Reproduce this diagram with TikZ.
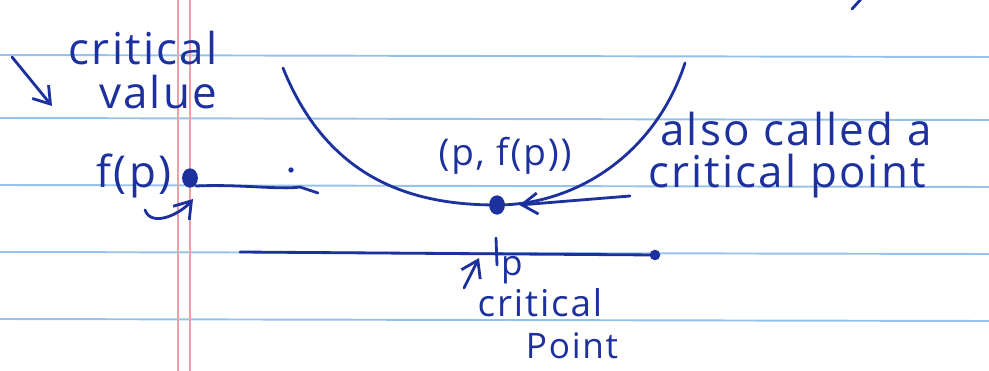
\documentclass[tikz,border=0pt]{standalone}
\usepackage{fontspec}
\setmainfont{Open Sans}[LetterSpace=5]
\usetikzlibrary{arrows.meta, positioning, shapes.geometric}
\definecolor{ink}{RGB}{28,48,158}
\definecolor{ruleblue}{RGB}{150,195,235}
\definecolor{marginred}{RGB}{235,160,165}
\tikzset{
    rule/.style={ruleblue, line width=1.1pt},
    margin/.style={marginred, line width=0.8pt},
    pen/.style={ink, line width=1.6pt, line cap=round, line join=round},
    arr/.style={pen, -{Straight Barb[length=9pt, width=12pt]}},
    inkdot/.style={ellipse, fill=ink, inner sep=0pt, minimum width=9pt, minimum height=11pt},
    handbig/.style={font=\fontsize{25}{28}\selectfont, text=ink, inner sep=0pt, anchor=base},
    handmid/.style={font=\fontsize{21}{24}\selectfont, text=ink, inner sep=0pt, anchor=base},
    handsmall/.style={font=\fontsize{20}{24}\selectfont, text=ink, inner sep=0pt, anchor=base}
}
\begin{document}
\begin{tikzpicture}[x=0.02cm, y=-0.02cm]
    \useasboundingbox (0,0) rectangle (989,371);
    \fill[white] (0,0) rectangle (989,371);
    % notebook paper
    \foreach \yy in {55,118,185,252,319} \draw[rule] (0,\yy) -- (989,\yy+2);
    \draw[margin] (178,0) -- (178,371);
    \draw[margin] (190,0) -- (190,371);
    % curve and axis
    \node[inkdot] at (497,205) (pmin) {};
    \draw[pen] (283,68) .. controls (330,185) and (420,205) .. (pmin.center)
        .. controls (575,205) and (655,155) .. (685,63);
    \coordinate (axl) at (240,252);
    \coordinate (axr) at (655,255);
    \draw[pen] (axl) -- (axr);
    \fill[ink] (axr) circle (3pt);
    \coordinate (tickt) at (496,238);
    \coordinate (tickb) at (497,265);
    \draw[pen] (tickt) -- (tickb);
    % f(p) side
    \node[inkdot] at (190,178) (fpdot) {};
    \node[handbig] at (134,188) (fp) {f(p)};
    \coordinate (lvl1) at (196,186);
    \coordinate (lvl2) at (300,187);
    \coordinate (lvl3) at (318,193);
    \draw[pen] (lvl1) .. controls (240,184) and (280,190) .. (lvl2) -- (lvl3);
    \fill[ink] (291,170) circle (1.5pt);
    \coordinate (hook) at (145,210);
    \coordinate (hooktip) at (193,199);
    \draw[arr] (hook) to[out=-70, in=-130] (hooktip);
    % labels
    \node[handbig] at (143,65) (cv1) {critical};
    \node[handbig] at (158,109) (cv2) {value};
    \coordinate (cvtail) at (12,57);
    \coordinate (cvtip) at (52,106);
    \draw[arr] (cvtail) -- (cvtip);
    \node[handmid] at (505,166) (ppt) {(p, f(p))};
    \node[handbig] at (796,146) (also) {also called a};
    \node[handbig] at (787,188) (cpt) {critical point};
    \coordinate (cptail) at (630,196);
    \draw[arr] (cptail) -- ([xshift=8pt]pmin.east);
    \coordinate (ptail) at (464,288);
    \draw[arr] (ptail) -- (479,258);
    \node[handsmall] at (512,275) (plab) {p};
    \node[handmid] at (540,316) (crit) {critical};
    \node[handsmall] at (572,358) (pnt) {Point};
    % cut-off stroke at top edge
    \draw[pen] (852,9) -- (862,-2);
\end{tikzpicture}
\end{document}
